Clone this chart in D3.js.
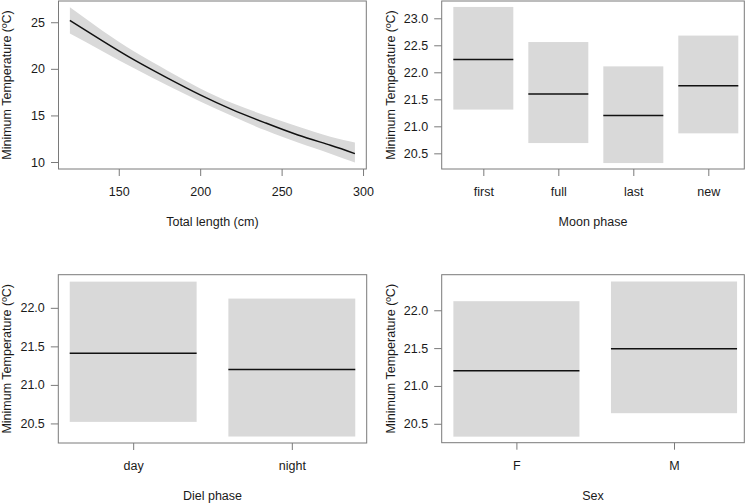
<!DOCTYPE html>
<html><head><meta charset="utf-8">
<script src="https://cdn.jsdelivr.net/npm/d3@7"></script>
<style>
body{margin:0;background:#fff;}
text{font-family:"Liberation Sans",Arial,sans-serif;font-size:12.5px;fill:#1a1a1a;}
</style></head><body>
<svg id="c" width="750" height="504"></svg>
<script>
// Panel 1: Total length effect
const lenX     = [120, 140, 160, 180, 200, 220, 240, 260, 280, 295];
const lenFit   = [25.2, 23.0, 20.9, 19.0, 17.2, 15.6, 14.2, 12.9, 11.8, 10.9];
const lenLower = [23.8, 21.9, 20.0, 18.2, 16.5, 14.9, 13.4, 12.1, 10.9, 9.95];
const lenUpper = [26.6, 24.1, 21.8, 19.8, 17.9, 16.3, 15.0, 13.8, 12.7, 12.1];
const lenTicks = [150, 200, 250, 300];
const lenYTicks = [10, 15, 20, 25];

// Panel 2: Moon phase
const moonCats  = ["first", "full", "last", "new"];
const moonFit   = [22.235, 21.60, 21.20, 21.75];
const moonLower = [21.31, 20.69, 20.32, 20.87];
const moonUpper = [23.21, 22.56, 22.11, 22.68];
const moonYTicks = [20.5, 21.0, 21.5, 22.0, 22.5, 23.0];

// Panel 3: Diel phase
const dielCats  = ["day", "night"];
const dielFit   = [21.41, 21.20];
const dielLower = [20.52, 20.33];
const dielUpper = [22.34, 22.12];

// Panel 4: Sex
const sexCats  = ["F", "M"];
const sexFit   = [21.20, 21.49];
const sexLower = [20.33, 20.64];
const sexUpper = [22.12, 22.38];
const smallYTicks = [20.5, 21.0, 21.5, 22.0];

const yTitle = "Minimum Temperature (ºC)";
const svg = d3.select("#c");
const BOX = "#7a7a7a", BAND = "#d9d9d9";

function frame(p, x, y, xTickVals, xTickFmt, yTickVals, yFmt, xTitle, yTitleX){
  const g = svg.append("g");
  const [x0,x1] = x.range(), [y0,y1] = y.range();
  const ya = g.append("g").attr("transform",`translate(${x0},0)`)
    .call(d3.axisLeft(y).tickValues(yTickVals).tickFormat(yFmt).tickSize(7.5).tickPadding(6));
  ya.select(".domain").remove();
  ya.selectAll("line").attr("stroke",BOX);
  ya.selectAll("text").attr("fill","#1a1a1a").style("font-size","12.5px").style("font-family","Liberation Sans, Arial, sans-serif");
  const xa = g.append("g").attr("transform",`translate(0,${y0})`)
    .call(d3.axisBottom(x).tickValues(xTickVals).tickFormat(xTickFmt).tickSize(7).tickPadding(11));
  xa.select(".domain").remove();
  xa.selectAll("line").attr("stroke",BOX);
  xa.selectAll("text").attr("fill","#1a1a1a").style("font-size","12.5px").style("font-family","Liberation Sans, Arial, sans-serif");
  g.append("text").attr("x",(x0+x1)/2).attr("y",y0+57).attr("text-anchor","middle").text(xTitle);
  g.append("text").attr("transform",`translate(${yTitleX},${(y0+y1)/2}) rotate(-90)`)
    .attr("text-anchor","middle").text(yTitle);
  return g;
}
function box(x,y){
  const [x0,x1] = x.range(), [y0,y1] = y.range();
  svg.append("rect").attr("x",x0).attr("y",y1).attr("width",x1-x0).attr("height",y0-y1)
    .attr("fill","none").attr("stroke",BOX).attr("stroke-width",1);
}

// ---- Panel 1
{
  const x = d3.scaleLinear().domain([113, 302]).range([58.5, 366.3]);
  const y = d3.scaleLinear().domain([9.25, 27.28]).range([169, 1]);
  const pts = lenX.map((v,i)=>({x:v,f:lenFit[i],lo:lenLower[i],hi:lenUpper[i]}));
  svg.append("path").datum(pts)
    .attr("d", d3.area().x(d=>x(d.x)).y0(d=>y(d.lo)).y1(d=>y(d.hi)).curve(d3.curveNatural))
    .attr("fill",BAND);
  svg.append("path").datum(pts)
    .attr("d", d3.line().x(d=>x(d.x)).y(d=>y(d.f)).curve(d3.curveNatural))
    .attr("fill","none").attr("stroke","#111").attr("stroke-width",1.5);
  frame(1, x, y, lenTicks, d3.format("d"), lenYTicks, d3.format("d"), "Total length (cm)", 10.7);
  box(x,y);
}

function catPanel(cats, fit, lo, hi, xDom, xr, yDom, yr, yTicks, xTitle, yTitleX){
  const x = d3.scaleLinear().domain(xDom).range(xr);
  const y = d3.scaleLinear().domain(yDom).range(yr);
  const idx = cats.map((c,i)=>i+1);
  svg.selectAll(null).data(idx).enter().append("rect")
    .attr("x",d=>x(d-0.4)).attr("width",d=>x(d+0.4)-x(d-0.4))
    .attr("y",d=>y(hi[d-1])).attr("height",d=>y(lo[d-1])-y(hi[d-1]))
    .attr("fill",BAND);
  svg.selectAll(null).data(idx).enter().append("line")
    .attr("x1",d=>x(d-0.4)).attr("x2",d=>x(d+0.4))
    .attr("y1",d=>y(fit[d-1])).attr("y2",d=>y(fit[d-1]))
    .attr("stroke","#111").attr("stroke-width",1.5);
  frame(0, x, y, idx, d=>cats[d-1], yTicks, d3.format(".1f"), xTitle, yTitleX);
  box(x,y);
}

catPanel(moonCats, moonFit, moonLower, moonUpper, [0.445, 4.48], [441.7, 744.3],
         [20.21, 23.32], [169, 1], moonYTicks, "Moon phase", 394.5);
catPanel(dielCats, dielFit, dielLower, dielUpper, [0.528, 2.472], [58.3, 366.7],
         [20.246, 22.43], [443, 274.7], smallYTicks, "Diel phase", 10.7);
catPanel(sexCats, sexFit, sexLower, sexUpper, [0.526, 2.446], [441.7, 744.3],
         [20.25, 22.47], [442.7, 274.7], smallYTicks, "Sex", 394.8);
</script></body></html>
